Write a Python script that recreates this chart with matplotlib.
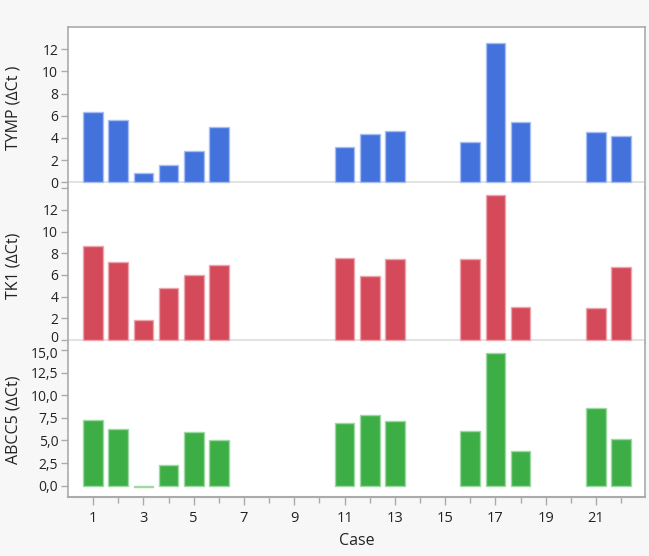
import matplotlib
matplotlib.use("Agg")
import matplotlib.pyplot as plt
import matplotlib.transforms as mtransforms
from matplotlib.ticker import FixedLocator, FuncFormatter

plt.rcParams['font.family'] = ['Open Sans', 'DejaVu Sans']

cases = [1, 2, 3, 4, 5, 6, 11, 12, 13, 16, 17, 18, 21, 22]
tymp = [6.36, 5.64, 0.81, 1.53, 2.86, 4.95, 3.15, 4.32, 4.66, 3.63, 12.55, 5.40, 4.56, 4.20]
tk1 = [8.65, 7.23, 1.85, 4.77, 6.00, 6.90, 7.57, 5.90, 7.50, 7.45, 13.39, 3.05, 2.92, 6.77]
abcc5 = [7.26, 6.23, -0.10, 2.25, 5.97, 5.05, 6.93, 7.78, 7.15, 6.00, 14.66, 3.83, 8.55, 5.16]

labels = ["TYMP (\u2206Ct )", "TK1 (\u2206Ct)", "ABCC5 (\u2206Ct)"]
series = [tymp, tk1, abcc5]
colors = ["#4372DD", "#D44A5A", "#3DAE46"]
edges = ["#A9BEF0", "#EBA5AD", "#9ED8A2"]
ylims = [(-0.51, 14.0), (-0.28, 14.03), (-1.25, 15.77)]
yticks = [[0, 2, 4, 6, 8, 10, 12], [0, 2, 4, 6, 8, 10, 12], [0, 2.5, 5, 7.5, 10, 12.5, 15]]

fig = plt.figure(figsize=(6.49, 5.56), dpi=100, facecolor="#F7F7F7")
gs = fig.add_gridspec(3, 1, height_ratios=[161, 155, 154], hspace=0,
                      left=68/649, right=645/649, top=1-27/556, bottom=1-497/556)
axes = [fig.add_subplot(gs[i]) for i in range(3)]

frame_c = "#ABABAB"
text_c = "#222222"
for i, ax in enumerate(axes):
    ax.set_facecolor("white")
    ax.bar(cases, series[i], width=0.78, color=colors[i], edgecolor=edges[i], linewidth=1.0, zorder=3)
    if i < 2:
        ax.axhline(0, color="#DDDDDD", lw=1.2, zorder=2)
    ax.set_xlim(0, 22.95)
    ax.set_ylim(*ylims[i])
    ax.yaxis.set_major_locator(FixedLocator(yticks[i]))
    if i == 2:
        ax.yaxis.set_major_formatter(FuncFormatter(lambda v, p: f"{v:.1f}".replace(".", ",")))
    else:
        ax.yaxis.set_major_formatter(FuncFormatter(lambda v, p: f"{int(round(v))}"))
    if i == 0:
        ax.yaxis.set_minor_locator(FixedLocator([-0.5]))
        ax.tick_params(axis='y', which='minor', length=5, color=frame_c, width=1)
    pos = ax.get_position()
    fig.text(14/649, (pos.y0 + pos.y1) / 2, labels[i], rotation=90, ha='center', va='center',
             fontsize=11.5, color=text_c)
    ax.tick_params(axis='y', which='major', length=5, color=frame_c, width=1,
                   labelsize=10, labelcolor=text_c, pad=2)
    for s in ["top", "bottom"]:
        ax.spines[s].set_visible(False)
    for s in ["left", "right"]:
        ax.spines[s].set_color(frame_c)
        ax.spines[s].set_linewidth(1.2)
    if i == 0:
        ax.spines["top"].set_visible(True)
        ax.spines["top"].set_color(frame_c)
        ax.spines["top"].set_linewidth(1.2)
    if i == 2:
        ax.spines["bottom"].set_visible(True)
        ax.spines["bottom"].set_color(frame_c)
        ax.spines["bottom"].set_linewidth(1.5)
        ax.xaxis.set_major_locator(FixedLocator(list(range(1, 23, 2))))
        ax.xaxis.set_minor_locator(FixedLocator(list(range(2, 23, 2))))
        ax.tick_params(axis='x', which='major', length=6, color=frame_c, width=1,
                       labelsize=10.5, labelcolor=text_c, pad=4)
        ax.tick_params(axis='x', which='minor', length=4, color=frame_c, width=1)
        ax.set_xlabel("Case", fontsize=11.5, color=text_c, labelpad=5)
    else:
        ax.tick_params(axis='x', which='both', bottom=False, labelbottom=False)

# nudge touching tick labels apart slightly
fig.canvas.draw()
up = mtransforms.ScaledTranslation(0, 3/100, fig.dpi_scale_trans)
down = mtransforms.ScaledTranslation(0, -3/100, fig.dpi_scale_trans)
for t in axes[1].get_yticklabels():
    if t.get_text() == "0":
        t.set_transform(t.get_transform() + up)
for t in axes[2].get_yticklabels():
    if t.get_text() == "15,0":
        t.set_transform(t.get_transform() + down)

fig.savefig("out.png", dpi=100, facecolor=fig.get_facecolor())
